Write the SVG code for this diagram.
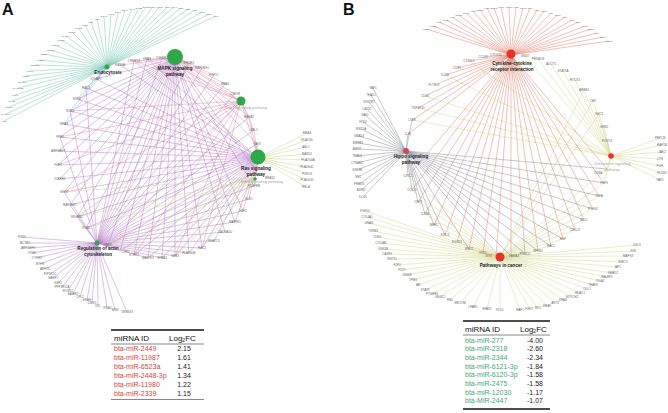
<svg xmlns="http://www.w3.org/2000/svg" width="668" height="413" viewBox="0 0 668 413">
<style>
text{font-family:"Liberation Sans",Arial,sans-serif}
.g{font-size:3px;fill:#6a6a6a;text-anchor:middle}
.g2{font-size:2.5px;fill:#6a6a6a;text-anchor:middle}
.nl{font-size:4.6px;font-weight:bold;fill:#1a1a1a;text-anchor:middle}
.fl{font-size:4px;fill:#a5a5a5;text-anchor:middle}
.e{fill:none;stroke-width:0.55}
.pu{stroke:#b070c4;opacity:.8}
.pk{stroke:#d583a6;opacity:.8}
.te{stroke:#6cc2aa;opacity:.85}
.bl{stroke:#8ab4d8;opacity:.85}
.yg{stroke:#cddb96}
.rd{stroke:#e07a68;opacity:.85}
.gr{stroke:#868a98;opacity:.85}
.yl{stroke:#d9dd98}
.th{font-size:8px;fill:#111}
.ra{font-size:7px;fill:#d5453a}
.rb{font-size:7px;fill:#3fa77c}
.v{font-size:7px;fill:#222}
.gn{fill:#2ea84a}
.rn{fill:#e8322a}
.rule{stroke:#111;stroke-width:1.5}
.rule2{stroke:#888;stroke-width:1.2}
</style>

<text x="2" y="15" font-size="16" font-weight="bold" fill="#111">A</text>
<text x="343" y="15" font-size="16" font-weight="bold" fill="#111">B</text>

<g id="connectors">
<path class="e te" d="M107 67L4 121M107 67L6 114M107 67L9 107M107 67L12 101M107 67L15 95M107 67L18 88M107 67L22 82M107 67L26 76M107 67L30 71M107 67L35 65M107 67L40 60M107 67L44 54M107 67L50 50M107 67L55 45M107 67L61 40M107 67L66 36M107 67L72 32M107 67L78 28M107 67L85 25M107 67L91 22M107 67L97 19M107 67L104 16M107 67L111 14M107 67L118 12M107 67L125 10M107 67L132 9M107 67L139 8M107 67L146 7M107 67L153 7M107 67L160 7M107 67L167 7M107 67L174 7M107 67L181 8M107 67L188 9M107 67L195 10M107 67L202 12M107 67L209 14M107 67L216 16"/>
<path class="e bl" d="M107 67L86 88M107 67L77 99M107 67L96 79M107 67L70 111M107 67L64 124"/>
<path class="e pu" d="M175 58L257 172M175 58L243 211M175 58L225 232M175 58L202 248M175 58L175 256M175 58L148 258M175 58L120 251M175 58L86 228M175 58L70 205M175 58L60 179M175 58L58 151M175 58L64 124M175 58L77 99M175 58L96 79M175 58L254 186M175 58L235 222M175 58L189 253M175 58L162 258M175 58L134 255M175 58L108 245M175 58L77 217M175 58L64 192M175 58L58 165M175 58L60 137M175 58L70 111M258 158L147 59M258 158L120 65M258 158L96 79M258 158L77 99M258 158L64 124M258 158L58 151M258 158L60 179M258 158L70 205M258 158L86 228M258 158L108 245M258 158L134 255M258 158L162 258M258 158L189 253M258 158L214 241M258 158L235 222M258 158L134 61M258 158L86 88M258 158L70 111M258 158L60 137M258 158L58 165M258 158L64 192M258 158L77 217M258 158L97 243M258 158L120 251M258 158L148 258M258 158L175 256M258 158L202 248M97 243L134 61M97 243L162 58M97 243L189 63M97 243L214 75M97 243L235 94M97 243L254 130M97 243L257 172M97 243L249 199M97 243L235 222M97 243L214 241M97 243L189 253M97 243L162 258M97 243L148 258M97 243L120 251M97 243L77 217M97 243L70 205M97 243L64 192M97 243L60 137M97 243L70 111M97 243L86 88M97 243L147 59M97 243L175 58M97 243L202 68M97 243L225 84M97 243L241 101M97 243L249 117M97 243L257 144M97 243L254 186M97 243L243 211M97 243L225 232M97 243L202 248M97 243L175 256"/>
<path class="e pu" d="M97 243L22 237M97 243L25 243M97 243L28 248M97 243L32 253M97 243L37 258M97 243L40 264M97 243L45 269M97 243L50 274M97 243L53 278M97 243L58 283M97 243L62 287M97 243L68 291M97 243L73 294M97 243L80 297M97 243L87 300M97 243L92 303M97 243L98 306M97 243L107 308M97 243L115 310M97 243L127 312"/>
<path class="e pk" d="M175 58L189 63M175 58L202 68M175 58L214 75M175 58L225 84M175 58L235 94M175 58L249 117M175 58L254 130M175 58L257 144M175 58L241 101M175 58L147 59M175 58L134 61M175 58L120 65M241 101L134 61M241 101L147 59M241 101L162 58M241 101L64 192M241 101L58 165M241 101L60 137M241 101L70 111M241 101L77 217M241 101L108 245M241 101L134 255M241 101L175 256M241 101L202 248M241 101L249 117M241 101L254 130M258 158L249 117M258 158L254 130M258 158L257 144M258 158L257 172M258 158L254 186M258 158L249 199M258 158L241 101M258 158L243 211"/>
<path class="e yg" d="M256 178L202 248M256 178L175 256M256 178L148 258M256 178L120 251M256 178L108 245M256 178L86 228M256 178L77 217M256 178L64 192M258 158L307 133M258 158L307 140M258 158L306 147M258 158L307 154M258 158L308 160M258 158L307 167M258 158L307 174M258 158L307 180M258 158L306 187"/>

<path class="e yl" d="M500 257L607 169M500 257L604 183M500 257L599 196M500 257L593 209M500 257L584 220M500 257L575 230M500 257L563 239M500 257L551 246M500 257L538 251M500 257L525 254M500 257L483 253M500 257L469 249M500 257L457 242M500 257L445 235M500 257L434 225M500 257L425 214M500 257L418 202M500 257L412 190M500 257L408 176M500 257L584 90M500 257L599 114M500 257L593 101M611 156L525 56M611 156L538 59M611 156L551 64M611 156L563 71M611 156L575 80M611 156L584 90M611 156L593 101M611 156L599 114M611 156L604 127M611 156L607 141M611 156L607 169M611 156L604 183M611 156L425 96M611 156L445 75M611 156L469 61M611 156L412 120M611 156L418 108M611 156L660 138M611 156L662 145M611 156L662 152M611 156L660 159M611 156L660 166M611 156L662 173M611 156L660 180"/>
<path class="e yl" d="M500 257L365 211M500 257L367 217M500 257L369 223M500 257L373 231M500 257L377 237M500 257L381 243M500 257L383 249M500 257L387 254M500 257L392 259M500 257L397 265M500 257L402 270M500 257L407 275M500 257L413 280M500 257L418 285M500 257L425 290M500 257L432 294M500 257L440 297M500 257L450 300M500 257L460 303M500 257L473 307M500 257L487 309M500 257L500 310M500 257L520 310M500 257L530 309M500 257L538 308M500 257L547 306M500 257L555 303M500 257L563 300M500 257L572 297M500 257L580 293M500 257L587 289M500 257L593 285M500 257L600 281M500 257L607 277M500 257L613 273M500 257L618 267M500 257L623 262M500 257L628 256M500 257L633 251M500 257L637 245"/>
<path class="e gr" d="M406 151L604 183M406 151L599 196M406 151L593 209M406 151L584 220M406 151L575 230M406 151L563 239M406 151L551 246M406 151L538 251M406 151L469 249M406 151L445 235M406 151L434 225M406 151L425 214M406 151L418 202M406 151L412 190M406 151L408 176M406 151L406 162M406 151L408 134M406 151L412 120M406 151L607 169M406 151L525 254M406 151L511 256M406 151L500 257M406 151L373 88M406 151L371 95M406 151L369 102M406 151L367 109M406 151L365 115M406 151L363 122M406 151L361 129M406 151L359 136M406 151L358 143M406 151L357 149M406 151L357 156M406 151L357 163M406 151L357 170M406 151L358 177M406 151L359 184M406 151L361 190M406 151L363 197"/>
<path class="e rd" d="M511 55L408 134M511 55L412 120M511 55L418 108M511 55L425 96M511 55L434 85M511 55L445 75M511 55L457 68M511 55L469 61M511 55L483 57M511 55L496 55M511 55L607 169M511 55L599 196M511 55L584 220M511 55L563 239M511 55L538 251M511 55L525 254M511 55L496 256M511 55L483 253M511 55L457 242M511 55L434 225M511 55L418 202M511 55L408 176M511 55L604 183M511 55L593 209M511 55L575 230M511 55L551 246M511 55L511 256M511 55L469 249M511 55L445 235M511 55L425 214M511 55L412 190"/>
<path class="e rd" d="M511 55L426 29M511 55L433 26M511 55L439 22M511 55L446 20M511 55L452 17M511 55L459 15M511 55L466 13M511 55L473 11M511 55L480 10M511 55L487 8M511 55L494 8M511 55L501 7M511 55L509 7M511 55L516 7M511 55L523 8M511 55L530 8M511 55L537 10M511 55L544 11M511 55L551 13M511 55L558 15M511 55L565 17M511 55L572 20M511 55L578 22M511 55L585 26M511 55L591 29M511 55L597 33M511 55L603 37M511 55L609 41"/>
</g>

<g id="genes-A-endocytosis-fan" class="g2">
<text x="4" y="122">ARF6</text><text x="6" y="115">RAB11A</text><text x="9" y="108">DNM3</text><text x="12" y="102">EHD1</text><text x="15" y="96">CLTC</text><text x="18" y="89">CHMP2B</text><text x="22" y="83">SMAD3</text><text x="26" y="77">PSD3</text><text x="30" y="72">VPS4A</text><text x="35" y="66">IQSEC1</text><text x="40" y="61">AP2M1</text><text x="44" y="55">EPN1</text><text x="50" y="51">ARAP2</text><text x="55" y="46">HSPA8</text><text x="61" y="41">GRK2</text><text x="66" y="37">RAB7A</text><text x="72" y="33">SNX2</text><text x="78" y="29">ACAP2</text><text x="85" y="26">PLD1</text><text x="91" y="23">CBL</text><text x="97" y="20">HGS</text><text x="104" y="17">STAM</text><text x="111" y="15">CAV2</text><text x="118" y="13">EHD4</text><text x="125" y="11">EEA1</text><text x="132" y="10">CAV1</text><text x="139" y="9">DAB2</text><text x="146" y="8">EHD2</text><text x="153" y="8">SNX4</text><text x="160" y="8">GIT2</text><text x="167" y="8">ARF1</text><text x="174" y="8">VTA1</text><text x="181" y="9">RET</text><text x="188" y="10">MET</text><text x="195" y="11">KIT</text><text x="202" y="13">FLT1</text><text x="209" y="15">SRC</text><text x="216" y="17">PML</text>
</g>
<g id="genes-A-circle" class="g">
<text x="270" y="178.5">RRAS2</text><text x="254" y="187">PDGFRB</text><text x="249" y="200">ELK1</text><text x="243" y="212">FGF2</text><text x="235" y="223">MAP3K1</text><text x="225" y="233">CACNA1D</text><text x="214" y="242">NFATC3</text><text x="202" y="249">RAC2</text><text x="189" y="254">PLA2G4E</text><text x="175" y="257">GNB1</text><text x="162" y="259">EFNA5</text><text x="148" y="259">MAP2K3</text><text x="134" y="256">NTRK2</text><text x="126" y="253">CRKL</text><text x="108" y="246">PAK3</text><text x="86" y="229">ITGA5</text><text x="77" y="218">BDKRB2</text><text x="70" y="206">RAPGEF2</text><text x="64" y="193">GNG2</text><text x="60" y="180">DIAPH2</text><text x="58" y="166">FGF7</text><text x="58" y="152">ARHGEF7</text><text x="60" y="138">PFN2</text><text x="64" y="125">NRAS</text><text x="70" y="112">SOS1</text><text x="77" y="100">MYLK</text><text x="86" y="89">RAC3</text><text x="96" y="80">IQGAP1</text><text x="120" y="66">RAB5A</text><text x="134" y="62">CHMP1B</text><text x="147" y="60">KRAS</text><text x="162" y="59">TGFBR1</text><text x="189" y="64">PIK3R1</text><text x="202" y="69">RAPGEF1</text><text x="214" y="76">FGF17</text><text x="225" y="85">MRAS</text><text x="235" y="95">CSF1R</text><text x="249" y="118">RASA2</text><text x="254" y="131">ABL2</text><text x="257" y="145">VAV3</text>
</g>
<g id="genes-A-ras-fan" class="g">
<text x="307" y="134">RRAS</text><text x="307" y="141">PLA2G6</text><text x="306" y="148">ABL1</text><text x="307" y="155">RASD2</text><text x="308" y="161">PLA2G4A</text><text x="307" y="168">PLA2G4C</text><text x="307" y="175">FOXO4</text><text x="307" y="181">PLA2G2D</text><text x="306" y="188">RELA</text>
</g>
<g id="genes-A-actin-fan" class="g">
<text x="22" y="238">FGD1</text><text x="25" y="244">ACTN1</text><text x="28" y="249">ARHGEF6</text><text x="32" y="254">ITGB5</text><text x="37" y="259">CYFIP2</text><text x="40" y="265">MYH9</text><text x="45" y="270">ARPC5</text><text x="50" y="275">PIP5K1C</text><text x="53" y="279">WASF2</text><text x="58" y="284">SSH1</text><text x="62" y="288">PPP1R12A</text><text x="68" y="292">ROCK2</text><text x="73" y="295">BAIAP2</text><text x="80" y="298">CFL2</text><text x="87" y="301">ENAH</text><text x="92" y="304">LIMK1</text><text x="98" y="307">VCL</text><text x="107" y="309">ITGA4</text><text x="115" y="311">MSN</text><text x="127" y="313">TMSB4X</text>
</g>

<g id="node-endocytosis"><circle class="gn" cx="107" cy="67" r="2.5"/><text class="nl" x="108" y="74">Endocytosis</text></g>
<g id="node-mapk"><circle class="gn" cx="175" cy="57" r="8"/><text class="nl" x="175" y="70">MAPK signaling</text><text class="nl" x="175" y="75.5">pathway</text></g>
<g id="node-rap1"><circle class="gn" cx="241" cy="101" r="4.5"/><text class="fl" x="246" y="109">Rap1 signaling pathway</text></g>
<g id="node-erbb"><circle class="gn" cx="255" cy="179" r="1.8"/><text class="fl" x="262" y="183">ErbB signaling pathway</text></g>
<g id="node-ras"><circle class="gn" cx="258" cy="157" r="7.5"/><text class="nl" x="256" y="170">Ras signaling</text><text class="nl" x="256" y="175.5">pathway</text></g>
<g id="node-actin"><circle class="gn" cx="97" cy="243" r="2.5"/><text class="nl" x="98" y="250">Regulation of actin</text><text class="nl" x="98" y="255.5">cytoskeleton</text></g>

<g id="genes-B-cytokine-fan" class="g2">
<text x="426" y="30">CCL5</text><text x="433" y="27">CCR7</text><text x="439" y="23">IL6R</text><text x="446" y="21">IL7R</text><text x="452" y="18">KIT</text><text x="459" y="16">EGFR</text><text x="466" y="14">CD40</text><text x="473" y="12">LIFR</text><text x="480" y="11">OSMR</text><text x="487" y="9">IL15</text><text x="494" y="9">BMP2</text><text x="501" y="8">GHR</text><text x="509" y="8">PRLR</text><text x="516" y="8">IL18</text><text x="523" y="9">CCL2</text><text x="530" y="9">TNF</text><text x="537" y="11">IL10</text><text x="544" y="12">CSF1</text><text x="551" y="14">IL2</text><text x="558" y="16">EPO</text><text x="565" y="18">TPO</text><text x="572" y="21">FAS</text><text x="578" y="23">LEP</text><text x="585" y="27">IL4R</text><text x="591" y="30">CCR5</text><text x="597" y="34">IL1A</text><text x="603" y="38">XCL1</text><text x="609" y="42">CD27</text>
</g>
<g id="genes-B-circle" class="g">
<text x="598" y="174">ITGB6</text><text x="604" y="184">FGF9</text><text x="599" y="197">TGFA</text><text x="593" y="210">PTGS2</text><text x="584" y="221">BCL2</text><text x="575" y="231">CXCL8</text><text x="563" y="240">HGF</text><text x="551" y="247">RAC1</text><text x="538" y="252">NFKB1</text><text x="525" y="255">PIK3CD</text><text x="514" y="257">LAMA4</text><text x="489" y="257">WNT</text><text x="483" y="254">FZD1</text><text x="469" y="250">WNT2</text><text x="457" y="243">EGLN1</text><text x="445" y="236">KITLG</text><text x="434" y="226">MMP2</text><text x="425" y="215">IL23A</text><text x="418" y="203">CSF3</text><text x="412" y="191">CCL20</text><text x="408" y="177">CXCL2</text><text x="408" y="135">IL1B</text><text x="412" y="121">LTBR</text><text x="418" y="109">TNFSF10</text><text x="425" y="97">CD40</text><text x="434" y="86">FLT3LG</text><text x="445" y="76">IL12B</text><text x="457" y="69">CCR1</text><text x="469" y="62">CX3CL1</text><text x="483" y="58">CCL28</text><text x="496" y="56">CXCL16</text><text x="525" y="57">GNG7</text><text x="538" y="60">PRKACB</text><text x="551" y="65">ADCY5</text><text x="563" y="72">STAT5A</text><text x="575" y="81">ROCK1</text><text x="584" y="91">ARRB2</text><text x="593" y="102">CRK</text><text x="599" y="115">SHC3</text><text x="604" y="128">GRB2</text><text x="607" y="142">FOXO3</text>
</g>
<g id="genes-B-hippo-fan" class="g">
<text x="373" y="89">YAP1</text><text x="371" y="96">TEAD1</text><text x="369" y="103">WWTR1</text><text x="367" y="110">LATS2</text><text x="365" y="116">SAV1</text><text x="363" y="123">FZD4</text><text x="361" y="130">WNT5A</text><text x="359" y="137">SMAD4</text><text x="358" y="144">BMPR2</text><text x="357" y="150">AMOT</text><text x="357" y="157">TEAD3</text><text x="357" y="164">CTNNB1</text><text x="357" y="171">GSK3B</text><text x="358" y="178">NF2</text><text x="359" y="185">FRMD6</text><text x="361" y="191">AXIN2</text><text x="363" y="198">DLG1</text>
</g>
<g id="genes-B-chemokine-fan" class="g">
<text x="660" y="139">PRKCB</text><text x="662" y="146">RAP1B</text><text x="662" y="153">JAK2</text><text x="660" y="160">LYN</text><text x="660" y="167">FGR</text><text x="662" y="174">PLCB4</text><text x="660" y="181">VAV1</text>
</g>
<g id="genes-B-cancer-fan" class="g">
<text x="365" y="212">FGF10</text><text x="367" y="218">COL4A1</text><text x="369" y="224">GNAI1</text><text x="373" y="232">TGFB3</text><text x="377" y="238">CDK6</text><text x="381" y="244">COL4A2</text><text x="383" y="250">GSK3B</text><text x="387" y="255">CASP9</text><text x="392" y="260">WNT11</text><text x="397" y="266">E2F3</text><text x="402" y="271">FZD7</text><text x="407" y="276">IKBKB</text><text x="413" y="281">TPM3</text><text x="418" y="286">AR</text><text x="425" y="291">STAT3</text><text x="432" y="295">PTGER3</text><text x="440" y="298">GNG12</text><text x="450" y="301">RB1</text><text x="460" y="304">MECOM</text><text x="473" y="308">LPAR1</text><text x="487" y="310">EPAS1</text><text x="500" y="311">PLD1</text><text x="520" y="311">RAF1</text><text x="529" y="310">FGF2</text><text x="538" y="309">MYC</text><text x="547" y="307">BRAF</text><text x="555" y="304">AKT3</text><text x="563" y="301">KRAS</text><text x="572" y="298">NOTCH2</text><text x="580" y="294">HDAC2</text><text x="587" y="290">CUL2</text><text x="593" y="286">TRAF3</text><text x="600" y="282">ITGA2</text><text x="607" y="278">RALBP1</text><text x="613" y="274">SMAD2</text><text x="618" y="268">APC</text><text x="623" y="263">BIRC3</text><text x="628" y="257">MAPK8</text><text x="633" y="252">JUN</text><text x="637" y="246">DVL3</text>
</g>

<g id="node-cytokine"><circle class="rn" cx="511" cy="54" r="4.5"/><text class="nl" x="512" y="65">Cytokine-cytokine</text><text class="nl" x="512" y="70.5">receptor interaction</text></g>
<g id="node-hippo"><circle fill="#d1455e" cx="406" cy="151" r="3"/><text class="nl" x="411" y="158">Hippo signaling</text><text class="nl" x="411" y="163.5">pathway</text></g>
<g id="node-chemokine"><circle class="rn" cx="611" cy="156" r="2.8"/><text class="fl" x="612" y="165">Chemokine signaling</text><text class="fl" x="612" y="170.5">pathway</text></g>
<g id="node-cancer"><circle class="rn" cx="500" cy="257" r="4.5"/><text class="nl" x="501" y="267" font-size="5">Pathways in cancer</text></g>

<g id="table-A">
<line class="rule" x1="111" y1="330" x2="204" y2="330"/>
<text class="th" x="114" y="340.5">miRNA ID</text>
<text class="th" x="169" y="340.5">Log<tspan font-size="5" dy="1.5">2</tspan><tspan dy="-1.5">FC</tspan></text>
<line class="rule2" x1="111" y1="344" x2="204" y2="344"/>
<text class="ra" x="114" y="350.5">bta-miR-2449</text><text class="v" x="184" y="350.5" text-anchor="middle">2.15</text>
<text class="ra" x="114" y="359.5">bta-miR-11987</text><text class="v" x="184" y="359.5" text-anchor="middle">1.61</text>
<text class="ra" x="114" y="368.5">bta-miR-6523a</text><text class="v" x="184" y="368.5" text-anchor="middle">1.41</text>
<text class="ra" x="114" y="377.5">bta-miR-2448-3p</text><text class="v" x="184" y="377.5" text-anchor="middle">1.34</text>
<text class="ra" x="114" y="386.5">bta-miR-11980</text><text class="v" x="184" y="386.5" text-anchor="middle">1.22</text>
<text class="ra" x="114" y="395.5">bta-miR-2339</text><text class="v" x="184" y="395.5" text-anchor="middle">1.15</text>
<line class="rule2" x1="111" y1="399.5" x2="204" y2="399.5"/>
</g>

<g id="table-B">
<line class="rule" x1="463" y1="321" x2="550" y2="321"/>
<text class="th" x="465" y="331.5">miRNA ID</text>
<text class="th" x="520" y="331.5">Log<tspan font-size="5" dy="1.5">2</tspan><tspan dy="-1.5">FC</tspan></text>
<line class="rule2" x1="463" y1="335" x2="550" y2="335"/>
<text class="rb" x="465" y="342.5">bta-miR-277</text><text class="v" x="543" y="342.5" text-anchor="end">-4.00</text>
<text class="rb" x="465" y="351.2">bta-miR-2318</text><text class="v" x="543" y="351.2" text-anchor="end">-2.60</text>
<text class="rb" x="465" y="359.9">bta-miR-2344</text><text class="v" x="543" y="359.9" text-anchor="end">-2.34</text>
<text class="rb" x="465" y="368.6">bta-miR-6121-3p</text><text class="v" x="543" y="368.6" text-anchor="end">-1.84</text>
<text class="rb" x="465" y="377.3">bta-miR-6120-3p</text><text class="v" x="543" y="377.3" text-anchor="end">-1.58</text>
<text class="rb" x="465" y="386">bta-miR-2475</text><text class="v" x="543" y="386" text-anchor="end">-1.58</text>
<text class="rb" x="465" y="394.7">bta-miR-12030</text><text class="v" x="543" y="394.7" text-anchor="end">-1.17</text>
<text class="rb" x="465" y="403.4">bta-MiR-2447</text><text class="v" x="543" y="403.4" text-anchor="end">-1.07</text>
<line class="rule" x1="463" y1="409" x2="550" y2="409"/>
</g>
</svg>
